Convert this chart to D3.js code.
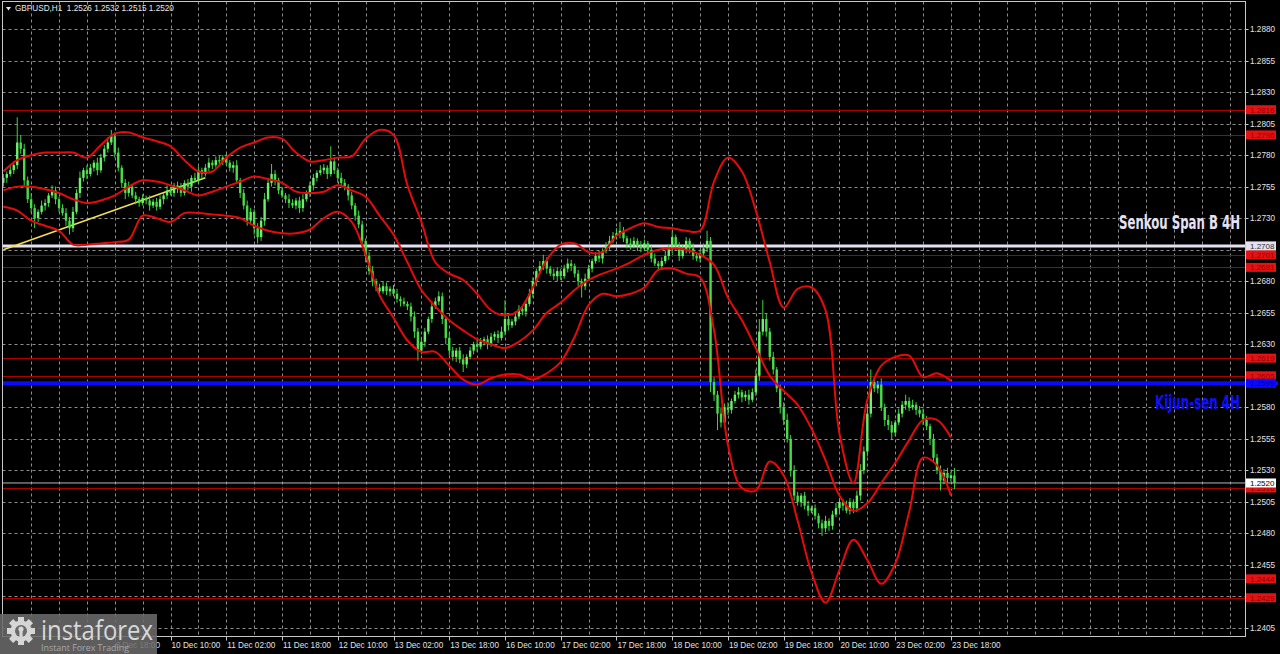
<!DOCTYPE html>
<html><head><meta charset="utf-8">
<script src="https://cdn.jsdelivr.net/npm/d3@7"></script>
<style>
html,body{margin:0;padding:0;background:#000;overflow:hidden;}
svg{display:block;}
</style></head><body>
<svg id="c" width="1280" height="654"></svg>
<script>
// ---------------- data ----------------
const titleText = "GBPUSD,H1  1.2526 1.2532 1.2515 1.2520";
const firstOpen = 1.2758;
const closes = [
1.2762,1.2765,1.2768,1.2772,1.2790,1.2785,1.2760,1.2745,1.2738,1.2730,
1.2735,1.2740,1.2742,1.2748,1.2752,1.2745,1.2738,1.2734,1.2728,1.2722,
1.2735,1.2750,1.2762,1.2768,1.2765,1.2770,1.2774,1.2768,1.2778,1.2785,
1.2790,1.2795,1.2782,1.2770,1.2758,1.2750,1.2755,1.2748,1.2745,1.2742,
1.2746,1.2744,1.2740,1.2743,1.2739,1.2745,1.2748,1.2752,1.2750,1.2756,
1.2754,1.2750,1.2758,1.2755,1.2762,1.2760,1.2768,1.2765,1.2770,1.2774,
1.2772,1.2776,1.2775,1.2778,1.2774,1.2770,1.2772,1.2760,1.2750,1.2740,
1.2728,1.2735,1.2722,1.2715,1.2728,1.2745,1.2758,1.2765,1.2760,1.2752,
1.2748,1.2745,1.2742,1.2740,1.2744,1.2738,1.2745,1.2750,1.2756,1.2762,
1.2766,1.2768,1.2770,1.2765,1.2775,1.2768,1.2762,1.2758,1.2755,1.2748,
1.2740,1.2732,1.2725,1.2712,1.2700,1.2688,1.2680,1.2675,1.2672,1.2676,
1.2672,1.2674,1.2670,1.2666,1.2664,1.2662,1.2660,1.2652,1.2640,1.2625,
1.2632,1.2640,1.2650,1.2660,1.2664,1.2668,1.2650,1.2635,1.2625,1.2620,
1.2625,1.2618,1.2614,1.2620,1.2625,1.2630,1.2628,1.2632,1.2634,1.2630,
1.2636,1.2638,1.2635,1.2640,1.2650,1.2645,1.2648,1.2652,1.2658,1.2656,
1.2662,1.2670,1.2680,1.2688,1.2692,1.2696,1.2690,1.2686,1.2684,1.2688,
1.2684,1.2690,1.2694,1.2692,1.2686,1.2680,1.2676,1.2682,1.2690,1.2696,
1.2700,1.2698,1.2704,1.2708,1.2712,1.2716,1.2718,1.2720,1.2714,1.2710,
1.2708,1.2712,1.2708,1.2706,1.2710,1.2705,1.2698,1.2694,1.2692,1.2696,
1.2700,1.2706,1.2715,1.2708,1.2700,1.2705,1.2712,1.2706,1.2700,1.2698,
1.2702,1.2706,1.2712,1.2600,1.2590,1.2575,1.2568,1.2580,1.2578,1.2585,
1.2590,1.2592,1.2588,1.2590,1.2586,1.2592,1.2605,1.2640,1.2650,1.2640,
1.2620,1.2610,1.2595,1.2580,1.2570,1.2555,1.2530,1.2510,1.2505,1.2510,
1.2502,1.2498,1.2500,1.2494,1.2488,1.2484,1.2490,1.2486,1.2495,1.2500,
1.2505,1.2502,1.2498,1.2505,1.2500,1.2510,1.2530,1.2545,1.2575,1.2600,
1.2595,1.2598,1.2580,1.2570,1.2566,1.2560,1.2568,1.2575,1.2582,1.2585,
1.2580,1.2582,1.2578,1.2575,1.2570,1.2565,1.2555,1.2540,1.2530,1.2522,
1.2528,1.2524,1.2526,1.2520
];
// wick lengths in pips above body top / below body bottom
const wickUp = [
3,2,4,3,20,6,4,3,5,3, 2,4,3,2,4,3,2,3,4,3, 4,3,5,2,4,3,2,4,3,3, 4,5,3,4,2,3,4,2,3,2,
3,2,4,2,3,3,2,4,3,2, 3,4,2,3,2,4,3,2,3,4, 2,3,4,2,3,2,3,4,2,3, 4,3,2,4,3,5,4,8,3,2,
3,2,4,3,2,3,4,2,3,3, 2,4,3,2,12,3,2,4,3,2, 3,2,4,3,2,3,4,2,3,4, 3,2,3,4,2,3,2,3,4,3,
4,3,2,4,3,4,3,2,4,3, 2,3,4,2,3,2,4,3,2,3, 3,2,3,4,15,3,2,4,3,2, 3,4,3,2,4,5,3,2,4,3,
2,3,4,3,2,3,2,4,3,2, 3,4,2,3,4,3,4,7,3,2, 4,3,2,4,3,2,3,4,2,3, 4,3,5,2,3,4,3,2,4,3,
3,4,8,3,4,3,5,3,4,2, 3,4,2,3,4,3,5,10,15,4, 3,4,2,3,4,5,3,4,3,2, 3,4,2,3,2,3,4,2,3,4,
3,2,4,3,2,4,5,4,6,10, 4,3,5,3,4,3,2,4,3,5, 3,4,2,3,4,3,2,4,3,4, 3,4,3,6
];
const wickDn = [
3,4,2,3,3,4,5,3,4,8, 3,2,4,3,2,4,3,2,4,5, 3,2,4,3,4,2,3,4,2,3, 3,2,4,3,4,5,3,2,4,3,
2,3,4,2,3,2,4,3,2,3, 4,3,2,3,4,2,3,4,2,3, 3,2,4,3,2,3,4,3,4,3, 4,3,5,5,3,4,2,3,4,3,
2,3,4,2,3,4,3,2,3,4, 3,2,3,4,2,3,4,2,3,4, 3,4,3,4,5,3,4,3,4,2, 3,4,2,3,4,2,3,4,5,8,
3,4,2,3,2,3,4,5,4,3, 4,3,6,3,2,3,4,2,3,4, 2,3,4,2,3,4,2,3,2,3, 4,2,3,4,2,3,4,2,3,4,
3,2,3,4,3,4,9,3,2,3, 2,3,4,2,3,2,3,4,3,4, 3,2,4,3,2,4,3,2,4,3, 2,3,4,3,4,2,3,4,3,2,
3,2,3,8,5,13,4,3,4,3, 2,3,4,3,4,2,3,4,3,4, 3,4,3,5,4,3,5,4,3,4, 3,4,2,3,4,6,3,4,3,2,
3,4,2,3,4,3,4,3,4,3, 3,4,3,5,4,6,3,2,3,4, 3,2,4,3,4,3,5,4,3,8, 3,4,3,5
];
// Bollinger-style bands (4H), one value every 4 H1 bars
const bandStep = 4;
const bandUpper = [
1.2767,1.2776,1.2780,1.2782,1.2782,1.2782,1.2778,1.2788,1.2797,1.2798,
1.2794,1.2791,1.2787,1.2776,1.2767,1.2767,1.2778,1.2786,1.2790,1.2794,
1.2793,1.2782,1.2775,1.2776,1.2778,1.2779,1.2793,1.2800,1.2796,1.2756,
1.2727,1.2695,1.2686,1.2681,1.2670,1.2657,1.2653,1.2657,1.2675,1.2697,
1.2709,1.2710,1.2703,1.2703,1.2716,1.2722,1.2726,1.2723,1.2722,1.2720,
1.2720,1.2759,1.2778,1.2767,1.2736,1.2695,1.2659,1.2674,1.2675,1.2657,
1.2559,1.2520,1.2586,1.2613,1.2620,1.2621,1.2604,1.2607,1.2601
];
const bandMiddle = [
1.2752,1.2755,1.2755,1.2753,1.2750,1.2745,1.2742,1.2744,1.2748,1.2755,
1.2760,1.2759,1.2756,1.2752,1.2748,1.2751,1.2755,1.2759,1.2763,1.2761,
1.2758,1.2751,1.2750,1.2751,1.2756,1.2752,1.2747,1.2732,1.2717,1.2695,
1.2673,1.2660,1.2649,1.2641,1.2634,1.2630,1.2627,1.2632,1.2641,1.2655,
1.2663,1.2673,1.2681,1.2686,1.2690,1.2695,1.2701,1.2705,1.2706,1.2705,
1.2701,1.2693,1.2667,1.2649,1.2627,1.2605,1.2593,1.2582,1.2563,1.2538,
1.2510,1.2498,1.2504,1.2520,1.2536,1.2554,1.2570,1.2570,1.2556
];
const bandLower = [
1.2739,1.2736,1.2728,1.2724,1.2720,1.2709,1.2709,1.2710,1.2711,1.2713,
1.2732,1.2730,1.2727,1.2734,1.2734,1.2733,1.2732,1.2730,1.2724,1.2720,
1.2718,1.2718,1.2721,1.2730,1.2735,1.2727,1.2701,1.2669,1.2651,1.2633,
1.2624,1.2624,1.2613,1.2602,1.2598,1.2603,1.2606,1.2606,1.2602,1.2607,
1.2616,1.2636,1.2661,1.2670,1.2668,1.2670,1.2675,1.2689,1.2690,1.2686,
1.2683,1.2641,1.2550,1.2516,1.2514,1.2537,1.2526,1.2490,1.2449,1.2425,
1.2451,1.2475,1.2459,1.2440,1.2456,1.2497,1.2540,1.2534,1.2510
];
const priceTicks = [1.2880,1.2855,1.2830,1.2805,1.2780,1.2755,1.2730,1.2705,1.2680,1.2655,
  1.2630,1.2605,1.2580,1.2555,1.2530,1.2505,1.2480,1.2455,1.2430,1.2405];
const timeLabels = ["9 Dec 18:00","10 Dec 10:00","11 Dec 02:00","11 Dec 18:00","12 Dec 10:00",
  "13 Dec 02:00","13 Dec 18:00","16 Dec 10:00","17 Dec 02:00","17 Dec 18:00","18 Dec 10:00",
  "19 Dec 02:00","19 Dec 18:00","20 Dec 10:00","23 Dec 02:00","23 Dec 18:00"];
const timeLabelIndex = [32,48,64,80,96,112,128,144,160,176,192,208,224,240,256,272];
const redLevels = [1.2816,1.2796,1.2701,1.2691,1.2619,1.2605,1.2516,1.2444,1.2429];
const senkouLevel = 1.2708;
const kijunLevel = 1.2599;
const lastPrice = 1.2520;
const trendIdx = [0,58];
const trendPrice = [1.2705,1.2762];

// ---------------- layout ----------------
const svg = d3.select("#c");
const plotL = 2.5, plotR = 1245.5, plotT = 1.5, plotB = 636.5;
const barW = 3.484;
const x = d3.scaleLinear().domain([0, 356]).range([3.3, 3.3 + 356 * barW]);
const y = d3.scaleLinear().domain([1.2405, 1.2880]).range([628, 29]);
const fmt = d3.format(".4f");
const axisFont = "Liberation Sans, Arial, sans-serif";

svg.append("rect").attr("width",1280).attr("height",654).attr("fill","#000");

svg.append("defs").append("clipPath").attr("id","plot")
  .append("rect").attr("x",plotL).attr("y",plotT).attr("width",plotR-plotL).attr("height",plotB-plotT);

// grid
const gridIdx = d3.range(8, 357, 8);
const grid = svg.append("g").attr("stroke","#8e8e8e").attr("stroke-width",1).attr("stroke-dasharray","3,3");
grid.selectAll("line.h").data(priceTicks).join("line").attr("class","h")
  .attr("x1",plotL).attr("x2",plotR)
  .attr("y1",d=>Math.round(y(d))+0.5).attr("y2",d=>Math.round(y(d))+0.5);
grid.selectAll("line.v").data(gridIdx).join("line").attr("class","v")
  .attr("y1",plotT).attr("y2",plotB)
  .attr("x1",d=>Math.round(x(d))+0.5).attr("x2",d=>Math.round(x(d))+0.5);

// horizontal levels
const lv = svg.append("g");
lv.selectAll("line").data(redLevels).join("line")
  .attr("x1",plotL).attr("x2",plotR)
  .attr("y1",d=>Math.round(y(d))+0.5).attr("y2",d=>Math.round(y(d))+0.5)
  .attr("stroke","#aa0000").attr("stroke-width",1.2);
lv.append("line").attr("x1",plotL).attr("x2",plotR)
  .attr("y1",y(lastPrice)).attr("y2",y(lastPrice)).attr("stroke","#b8b8b8").attr("stroke-width",1);
lv.append("line").attr("x1",plotL).attr("x2",1278)
  .attr("y1",y(kijunLevel)).attr("y2",y(kijunLevel)).attr("stroke","#0a0aff").attr("stroke-width",4);
lv.append("line").attr("x1",plotL).attr("x2",plotR)
  .attr("y1",y(senkouLevel)).attr("y2",y(senkouLevel)).attr("stroke","#e6e1f2").attr("stroke-width",3);

const plot = svg.append("g").attr("clip-path","url(#plot)");

// trend line
plot.append("line")
  .attr("x1",x(trendIdx[0])).attr("y1",y(trendPrice[0]))
  .attr("x2",x(trendIdx[1])).attr("y2",y(trendPrice[1]))
  .attr("stroke","#f2e050").attr("stroke-width",1.6);

// candles
const candles = closes.map((c,i)=>{
  const o = i ? closes[i-1] : firstOpen;
  const top = Math.max(o,c), bot = Math.min(o,c);
  return {i, o, c, top, bot, h: top + wickUp[i]*1e-4, l: bot - wickDn[i]*1e-4};
});
const cg = plot.append("g");
cg.selectAll("line").data(candles).join("line")
  .attr("x1",d=>x(d.i)).attr("x2",d=>x(d.i))
  .attr("y1",d=>y(d.h)).attr("y2",d=>y(d.l))
  .attr("stroke","#3ed63e").attr("stroke-width",1);
cg.selectAll("rect").data(candles).join("rect")
  .attr("x",d=>x(d.i)-1.2).attr("width",2.4)
  .attr("y",d=>y(d.top)).attr("height",d=>Math.max(1, y(d.bot)-y(d.top)))
  .attr("fill",d=>d.c>=d.o ? "#6cf06c" : "#48dc48");

// bands
const bandLine = d3.line().x((d,k)=>x(k*bandStep)).y(d=>y(d)).curve(d3.curveCatmullRom.alpha(0.5));
[bandUpper, bandMiddle, bandLower].forEach(b=>{
  plot.append("path").attr("d",bandLine(b)).attr("fill","none")
    .attr("stroke","#e60a0a").attr("stroke-width",2);
});

// frame
svg.append("rect").attr("x",plotL).attr("y",plotT).attr("width",plotR-plotL).attr("height",plotB-plotT)
  .attr("fill","none").attr("stroke","#c8c8c8").attr("stroke-width",1);

// price axis (labels hidden under level tags are not drawn, as in the reference)
const tagPrices = redLevels.concat([senkouLevel, kijunLevel, lastPrice]);
const visibleTicks = priceTicks.filter(p => !tagPrices.some(q => Math.abs(y(p)-y(q)) < 8));
const ax = svg.append("g");
ax.selectAll("line").data(priceTicks).join("line")
  .attr("x1",plotR).attr("x2",plotR+3)
  .attr("y1",d=>Math.round(y(d))+0.5).attr("y2",d=>Math.round(y(d))+0.5)
  .attr("stroke","#c8c8c8");
ax.selectAll("text").data(visibleTicks).join("text")
  .attr("x",1250).attr("y",d=>y(d)+3)
  .attr("fill","#e2e2e2").attr("font-family",axisFont).attr("font-size","8.2px")
  .text(d=>fmt(d));

// level tags on the price axis
function levelLabel(p, bg, fg, txt){
  const g = svg.append("g");
  g.append("rect").attr("x",1246).attr("y",y(p)-4.5).attr("width",30).attr("height",9).attr("fill",bg);
  g.append("text").attr("x",1250).attr("y",y(p)+3).attr("fill",fg)
    .attr("font-family",axisFont).attr("font-size","8px").text(txt);
}
redLevels.forEach(p=>levelLabel(p,"#e41212","#9a0000",fmt(p)));
levelLabel(kijunLevel,"#0a0aff","#0000a8",fmt(kijunLevel));
levelLabel(senkouLevel,"#e6e1f2","#303030",fmt(senkouLevel));
levelLabel(lastPrice,"#ffffff","#000000",fmt(lastPrice));

// time axis
const tx = svg.append("g");
tx.selectAll("line").data(timeLabelIndex).join("line")
  .attr("x1",d=>Math.round(x(d))+0.5).attr("x2",d=>Math.round(x(d))+0.5)
  .attr("y1",plotB).attr("y2",plotB+4).attr("stroke","#c8c8c8");
tx.selectAll("text").data(timeLabels).join("text")
  .attr("x",(d,k)=>x(timeLabelIndex[k])+1).attr("y",648)
  .attr("fill","#e2e2e2").attr("font-family",axisFont).attr("font-size","8.2px")
  .text(d=>d);

// title
svg.append("path").attr("d","M6,7 L11,7 L8.5,10.5 Z").attr("fill","#e8e8e8");
svg.append("text").attr("x",15).attr("y",11).attr("fill","#e8e8e8")
  .attr("font-family",axisFont).attr("font-size","8.2px")
  .attr("xml:space","preserve").style("white-space","pre").text(titleText);

// indicator captions (condensed bold, stretched vertically)
function caption(txt, xr, yb, color, w){
  svg.append("text").attr("transform",`translate(${xr},${yb}) scale(1,1.3)`)
    .attr("text-anchor","end").attr("fill",color)
    .attr("font-family","Liberation Sans Narrow, DejaVu Sans Condensed, sans-serif")
    .attr("font-weight","bold").attr("font-size","15px")
    .attr("textLength",w).attr("lengthAdjust","spacingAndGlyphs").text(txt);
}
caption("Senkou Span B 4H", 1240, 229, "#e6e1f2", 121);
caption("Kijun-sen 4H", 1240, 409, "#1010ff", 85);

// logo
const logo = svg.append("g");
logo.append("rect").attr("x",0).attr("y",614).attr("width",157).attr("height",40)
  .attr("fill","#6a6a6a").attr("opacity",0.88);
const gear = logo.append("g").attr("transform","translate(21,631)").attr("fill","#d6d6d6");
d3.range(8).forEach(k=>{
  gear.append("rect").attr("x",-3).attr("y",-14).attr("width",6).attr("height",6)
    .attr("transform",`rotate(${k*45})`);
});
gear.append("circle").attr("r",10.5);
gear.append("circle").attr("r",6).attr("fill","#6a6a6a");
gear.append("circle").attr("cy",-2).attr("r",2.6);
gear.append("rect").attr("x",-1.6).attr("y",-1).attr("width",3.2).attr("height",11);
logo.append("text").attr("x",41).attr("y",640).attr("fill","#d8d8d8")
  .attr("font-family","Open Sans, Lato, sans-serif").attr("font-size","28px")
  .attr("textLength",112).attr("lengthAdjust","spacingAndGlyphs").text("instaforex");
logo.append("text").attr("x",41).attr("y",651).attr("fill","#a8a8a8")
  .attr("font-family","Open Sans, sans-serif").attr("font-size","9px")
  .attr("textLength",88).attr("lengthAdjust","spacingAndGlyphs").text("Instant Forex Trading");
</script>
</body></html>
